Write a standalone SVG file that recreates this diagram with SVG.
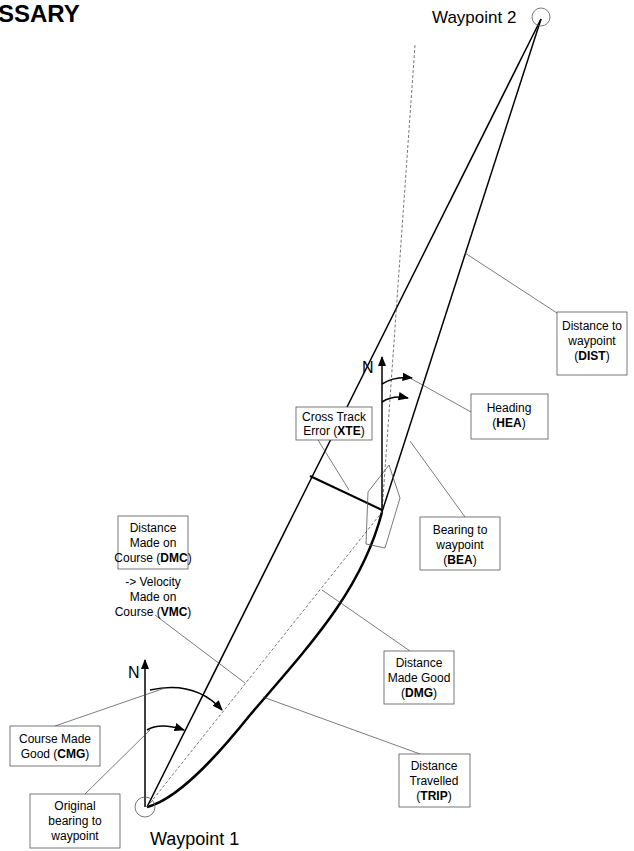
<svg xmlns="http://www.w3.org/2000/svg" width="634" height="851" viewBox="0 0 634 851">
<style>
text{font-family:"Liberation Sans",Arial,sans-serif;fill:#000}
.l{font-size:12px;text-anchor:middle}
.box{fill:#fff;stroke:#555;stroke-width:0.8}
.lead{stroke:#444;stroke-width:0.7;fill:none}
.main{stroke:#000;stroke-width:1.5;fill:none}
</style>
<defs>
<marker id="ah" viewBox="0 0 10 10" refX="9" refY="5" markerWidth="7" markerHeight="7" orient="auto"><path d="M0,1 L10,5 L0,9 z" fill="#000"/></marker>
</defs>
<rect width="634" height="851" fill="#fff"/>
<text x="-2" y="22" font-size="24" font-weight="bold">SSARY</text>
<g id="connectors">
<line class="main" x1="147" y1="807" x2="541" y2="19"/>
<line class="main" x1="382" y1="512" x2="541" y2="19"/>
<path d="M147,807 C175,800 210,765 250,715 C310,645 362,590 382,512" stroke="#000" stroke-width="2.5" fill="none"/>
<line x1="147" y1="807" x2="382" y2="512" stroke="#555" stroke-width="0.8" stroke-dasharray="3,2"/>
<line x1="382" y1="512" x2="415" y2="45" stroke="#555" stroke-width="0.8" stroke-dasharray="3,2"/>
<line x1="310" y1="476" x2="382" y2="510" stroke="#000" stroke-width="2"/>
<polygon points="389,465 400,498 385,548 366,544 368,492" fill="none" stroke="#555" stroke-width="0.8"/>
<line class="main" x1="382" y1="512" x2="382" y2="357" marker-end="url(#ah)"/>
<path d="M382,384 Q395,376 412,378" class="main" marker-end="url(#ah)"/>
<path d="M382,402 Q393,395 408,398" class="main" marker-end="url(#ah)"/>
<line class="main" x1="145" y1="807" x2="145" y2="660" marker-end="url(#ah)"/>
<path d="M150,690 Q195,680 222,710" class="main" marker-end="url(#ah)"/>
<path d="M147,730 Q160,722 184,730" class="main" marker-end="url(#ah)"/>
<line class="lead" x1="557" y1="313" x2="465" y2="253"/>
<line class="lead" x1="318" y1="440" x2="349" y2="490"/>
<line class="lead" x1="471" y1="412" x2="410" y2="378"/>
<line class="lead" x1="465" y1="517" x2="410" y2="441"/>
<line class="lead" x1="155" y1="615" x2="245" y2="683"/>
<line class="lead" x1="322" y1="590" x2="410" y2="651"/>
<line class="lead" x1="263" y1="697" x2="420" y2="754"/>
<line class="lead" x1="55" y1="726" x2="165" y2="688"/>
<line class="lead" x1="85" y1="794" x2="150" y2="730"/>
</g>
<text x="128" y="678" font-size="16">N</text>
<text x="362" y="373" font-size="16">N</text>
<g id="wp2"><circle cx="541" cy="17" r="9" fill="none" stroke="#555" stroke-width="0.8"/><text x="432" y="23" font-size="17">Waypoint 2</text></g>
<g id="wp1"><circle cx="145" cy="807" r="10" fill="none" stroke="#555" stroke-width="0.8"/><text x="150" y="845" font-size="18">Waypoint 1</text></g>
<g id="dist"><rect class="box" x="557" y="312" width="70" height="63"/><text class="l" x="592" y="330">Distance to</text><text class="l" x="592" y="345">waypoint</text><text class="l" x="592" y="360">(<tspan font-weight="bold">DIST</tspan>)</text></g>
<g id="xte"><rect class="box" x="296" y="407" width="76" height="33"/><text class="l" x="334" y="421">Cross Track</text><text class="l" x="334" y="435">Error (<tspan font-weight="bold">XTE</tspan>)</text></g>
<g id="hea"><rect class="box" x="471" y="394" width="77" height="45"/><text class="l" x="509" y="412">Heading</text><text class="l" x="509" y="427">(<tspan font-weight="bold">HEA</tspan>)</text></g>
<g id="bea"><rect class="box" x="420" y="517" width="80" height="53"/><text class="l" x="460" y="534">Bearing to</text><text class="l" x="460" y="549">waypoint</text><text class="l" x="460" y="564">(<tspan font-weight="bold">BEA</tspan>)</text></g>
<g id="dmc"><rect class="box" x="118" y="516" width="70" height="53"/><text class="l" x="153" y="532">Distance</text><text class="l" x="153" y="547">Made on</text><text class="l" x="153" y="562">Course (<tspan font-weight="bold">DMC</tspan>)</text></g>
<g id="vmc"><text class="l" x="153" y="586">-&gt; Velocity</text><text class="l" x="153" y="601">Made on</text><text class="l" x="153" y="616">Course (<tspan font-weight="bold">VMC</tspan>)</text></g>
<g id="dmg"><rect class="box" x="384" y="651" width="70" height="53"/><text class="l" x="419" y="667">Distance</text><text class="l" x="419" y="682">Made Good</text><text class="l" x="419" y="697">(<tspan font-weight="bold">DMG</tspan>)</text></g>
<g id="trip"><rect class="box" x="399" y="754" width="71" height="53"/><text class="l" x="434" y="770">Distance</text><text class="l" x="434" y="785">Travelled</text><text class="l" x="434" y="800">(<tspan font-weight="bold">TRIP</tspan>)</text></g>
<g id="cmg"><rect class="box" x="10" y="726" width="90" height="40"/><text class="l" x="55" y="743">Course Made</text><text class="l" x="55" y="758">Good (<tspan font-weight="bold">CMG</tspan>)</text></g>
<g id="obw"><rect class="box" x="30" y="794" width="90" height="54"/><text class="l" x="75" y="810">Original</text><text class="l" x="75" y="825">bearing to</text><text class="l" x="75" y="840">waypoint</text></g>
</svg>
